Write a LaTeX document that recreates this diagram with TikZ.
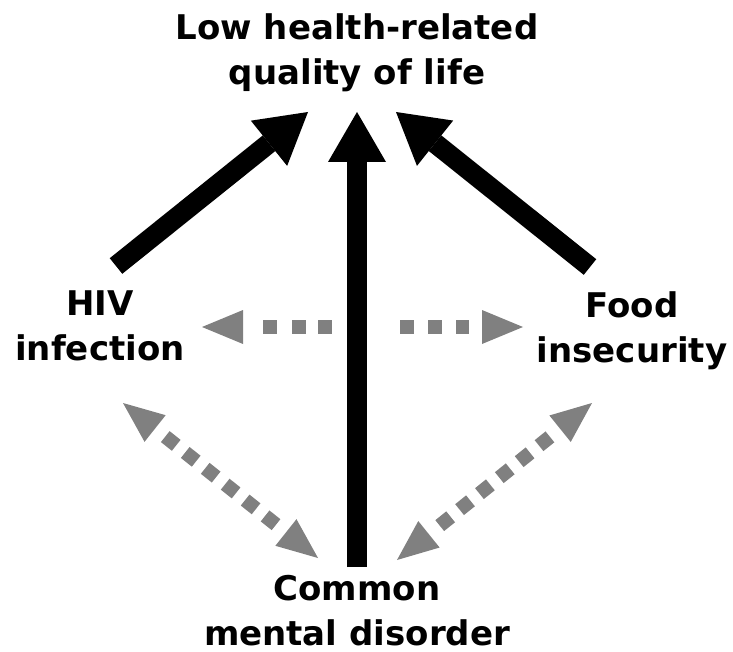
\documentclass[tikz,border=0pt]{standalone}
\usepackage{fontspec}
\setmainfont{DejaVu Sans}
\usetikzlibrary{arrows.meta}
\definecolor{linkgray}{RGB}{128,128,128}
\tikzset{
  factor/.style={font=\fontsize{34}{45}\selectfont\bfseries, align=center,
    inner sep=0pt, anchor=base},
  effect/.style={draw=black, line width=20pt,
    -{Triangle[length=50pt,width=58pt,line width=0pt]}},
  link/.style={draw=linkgray, line width=14pt,
    {Triangle[length=41pt,width=34pt,line width=0pt]}-{Triangle[length=41pt,width=34pt,line width=0pt]}},
}
\begin{document}
\begin{tikzpicture}[x=1pt,y=-1pt]
\useasboundingbox (0,0) rectangle (733,652);

% factors (base anchor sits on the last line)
\node[factor] (qol)  at (357,85)  {Low health-related\\quality of life};
\node[factor] (hiv)  at (100,360) {HIV\\infection};
\node[factor] (food) at (632,362) {Food\\insecurity};
\node[factor] (cmd)  at (357,645) {Common\\mental disorder};

% arrow ends
\coordinate (qol-l) at (308,112);
\coordinate (qol-c) at (357,112);
\coordinate (qol-r) at (396,112);
\coordinate (hiv-up) at (116,266);
\coordinate (food-up) at (590,267);
\coordinate (cmd-up) at (357,567);
\coordinate (hiv-e) at (202,327);
\coordinate (food-w) at (523,327);
\coordinate (hiv-se) at (123,403);
\coordinate (cmd-nw) at (318,558);
\coordinate (food-sw) at (592,403);
\coordinate (cmd-ne) at (397,560);

% mutual associations
\draw[link, dash pattern=on 0pt off 20pt on 14pt off 15pt on 14pt off 12pt on 14pt off 68pt on 14pt off 14pt on 14pt off 14pt on 13pt off 100pt]
  (hiv-e) -- (food-w);
\draw[link, dash pattern=on 0pt off 13pt on 14pt off 11.5pt on 14pt off 11.5pt on 14pt off 11.5pt on 14pt off 11.5pt on 14pt off 11.5pt on 14pt off 100pt]
  (hiv-se) -- (cmd-nw);
\draw[link, dash pattern=on 0pt off 13pt on 14pt off 11.5pt on 14pt off 11.5pt on 14pt off 11.5pt on 14pt off 11.5pt on 14pt off 11.5pt on 14pt off 100pt]
  (food-sw) -- (cmd-ne);

% effects on quality of life
\draw[effect] (hiv-up) -- (qol-l);
\draw[effect] (food-up) -- (qol-r);
\draw[effect] (cmd-up) -- (qol-c);
\end{tikzpicture}
\end{document}
